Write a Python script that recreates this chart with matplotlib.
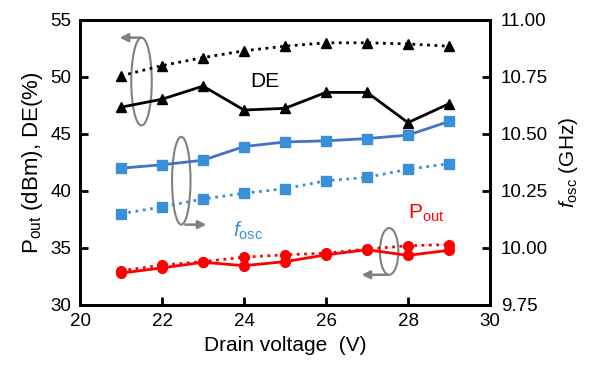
import matplotlib.pyplot as plt
from matplotlib.patches import Ellipse

plt.rcParams['font.family'] = ['Liberation Sans', 'DejaVu Sans']
plt.rcParams['mathtext.fontset'] = 'custom'
plt.rcParams['mathtext.rm'] = 'Liberation Sans'
plt.rcParams['mathtext.it'] = 'Liberation Sans:italic'

# data
vd = [21, 22, 23, 24, 25, 26, 27, 28, 29]
de_sim = [50.1, 51.0, 51.7, 52.3, 52.7, 53.0, 53.0, 52.9, 52.7]
de_meas = [47.35, 48.05, 49.2, 47.1, 47.25, 48.65, 48.65, 46.0, 47.65]
pout_sim = [33.0, 33.5, 33.8, 34.2, 34.4, 34.55, 34.9, 35.2, 35.3]
pout_meas = [32.8, 33.25, 33.75, 33.45, 33.8, 34.4, 34.85, 34.35, 34.8]
fosc_meas = [10.35, 10.365, 10.385, 10.445, 10.465, 10.47, 10.48, 10.495, 10.555]
fosc_sim = [10.15, 10.18, 10.215, 10.24, 10.26, 10.295, 10.31, 10.345, 10.37]

blue = '#3a8fd9'
blue_line = '#4472c4'
red = '#ff0000'
gray = '#808080'

fig = plt.figure(figsize=(5.98, 3.75), dpi=100)
ax = fig.add_axes([0.1338, 0.1867, 0.6856, 0.76])
ax2 = ax.twinx()

# left axis: DE and Pout
ax.plot(vd, de_sim, ':', color='black', lw=2, marker='^', ms=7)
ax.plot(vd, de_meas, '-', color='black', lw=2, marker='^', ms=7)
ax.plot(vd, pout_sim, ':', color=red, lw=2, marker='o', ms=7)
ax.plot(vd, pout_meas, '-', color=red, lw=2, marker='o', ms=7)

# right axis: fosc
ax2.plot(vd, fosc_meas, '-', color=blue_line, lw=2, marker='s', ms=6.5,
         mfc=blue, mec=blue)
ax2.plot(vd, fosc_sim, ':', color=blue, lw=2, marker='s', ms=6.5)

ax.set_xlim(20, 30)
ax.set_ylim(30, 55)
ax.set_xticks([20, 22, 24, 26, 28, 30])
ax.set_yticks([30, 35, 40, 45, 50, 55])
ax2.set_ylim(9.75, 11.0)
ax2.set_yticks([9.75, 10.0, 10.25, 10.5, 10.75, 11.0])
ax2.set_yticklabels(['%.2f' % t for t in ax2.get_yticks()])

for a in (ax, ax2):
    for s in a.spines.values():
        s.set_linewidth(2)
    a.tick_params(direction='in', width=2, length=6, labelsize=13.5, pad=6)
ax2.tick_params(pad=8)

ax.set_xlabel('Drain voltage  (V)', fontsize=15, labelpad=4)
ax.set_ylabel(r'P$_{\mathrm{out}}$ (dBm), DE(%)', fontsize=16, labelpad=4)
ax2.set_ylabel(r'$f_{\mathrm{osc}}$ (GHz)', fontsize=15, labelpad=6)

# text labels
ax.text(24.5, 49.6, 'DE', fontsize=15, ha='center', va='center')
ax.text(24.1, 36.5, r'$f_{\mathrm{osc}}$', fontsize=15, color=blue,
        ha='center', va='center')
ax.text(28.45, 38.0, r'P$_{\mathrm{out}}$', fontsize=15, color=red,
        ha='center', va='center')

# ellipses with arrows pointing to the axis used
ell = [(21.5, 49.6, 0.5, 7.7), (22.47, 40.9, 0.45, 7.7), (27.54, 34.7, 0.45, 4.1)]
for cx, cy, w, h in ell:
    ax.add_patch(Ellipse((cx, cy), w, h, fill=False, ec=gray, lw=1.5))
arrow = dict(arrowstyle='-|>', color=gray, lw=1.8, mutation_scale=12)
ax.annotate('', xy=(20.9, 53.45), xytext=(21.55, 53.45), arrowprops=arrow)
ax.annotate('', xy=(23.15, 37.05), xytext=(22.5, 37.05), arrowprops=arrow)
ax.annotate('', xy=(26.8, 32.65), xytext=(27.58, 32.65), arrowprops=arrow)

fig.savefig('out.png', dpi=100)
